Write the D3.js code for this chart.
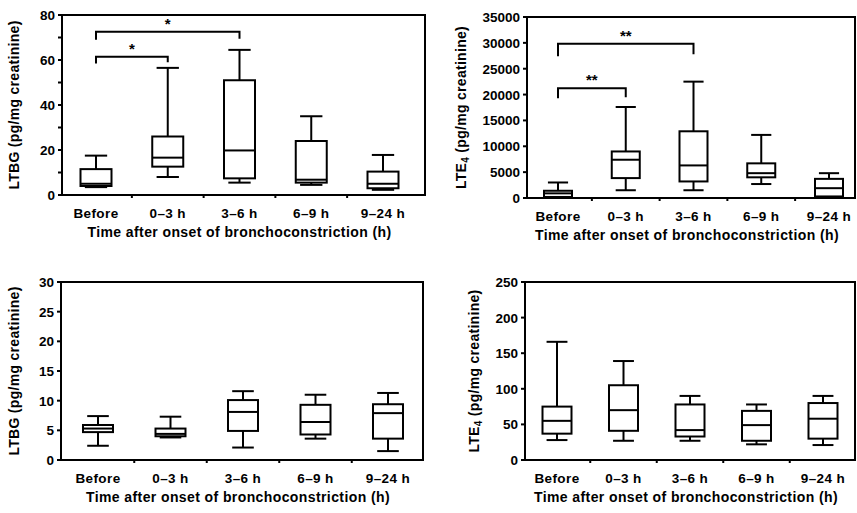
<!DOCTYPE html>
<html>
<head>
<meta charset="utf-8">
<script src="https://cdn.jsdelivr.net/npm/d3@7"></script>
<style>
  body { margin: 0; background: #fff; }
  svg { font-family: "Liberation Sans", Arial, sans-serif; font-weight: bold; }
</style>
</head>
<body>
<script>
var categories = ["Before", "0\u20133 h", "3\u20136 h", "6\u20139 h", "9\u201324 h"];

// each row: [min, q1, median, q3, max]
var ltbgEarly = [[3.5, 4, 5, 11.5, 17.5], [8, 12.6, 16.6, 26, 56.5], [5.5, 7.4, 19.8, 51, 64.5], [4.5, 5.5, 6.8, 24, 35], [2.3, 3, 5, 10.4, 17.8]];
var lte4Early = [[100, 200, 900, 1400, 3000], [1500, 3850, 7400, 9000, 17600], [1500, 3200, 6300, 12900, 22500], [2700, 4000, 4800, 6700, 12200], [100, 300, 1900, 3700, 4800]];
var ltbgLate = [[2.4, 4.7, 5.3, 5.9, 7.4], [3.8, 4.0, 4.4, 5.3, 7.3], [2.1, 4.9, 8.1, 10.1, 11.6], [3.6, 4.3, 6.4, 9.3, 11.0], [1.5, 3.6, 7.9, 9.4, 11.3]];
var lte4Late = [[28, 37, 55, 75, 166], [27, 41, 70, 105, 139], [27, 33, 42, 78, 90], [22, 27, 49, 69, 78], [21, 30, 58, 80, 90]];

var ltbgEarlyTicks = [0, 20, 40, 60, 80];
var ltbgEarlyMinor = [10, 30, 50, 70];
var lte4EarlyTicks = [0, 5000, 10000, 15000, 20000, 25000, 30000, 35000];
var ltbgLateTicks = [0, 5, 10, 15, 20, 25, 30];
var lte4LateTicks = [0, 50, 100, 150, 200, 250];

// brackets: [fromIndex, toIndex, barValue, leftEnd, rightEnd, label]
var ltbgEarlyBrackets = [[0, 1, 61.5, 58.5, 59, "*"], [0, 2, 72.6, 69, 69.4, "*"]];
var lte4EarlyBrackets = [[0, 1, 21200, 19300, 19500, "**"], [0, 2, 29850, 27400, 27800, "**"]];

var xTitle = "Time after onset of bronchoconstriction (h)";

var svg = d3.select("body").append("svg")
    .attr("width", 857)
    .attr("height", 513);

function drawPanel(p) {
  var g = svg.append("g");
  var y = d3.scaleLinear().domain([0, p.ticks[p.ticks.length - 1]]).range([p.yBot, p.yTop]);
  var x = d3.scalePoint().domain(categories).range(p.centers);

  // frame
  g.append("rect")
    .attr("x", p.x0).attr("y", p.yTop)
    .attr("width", p.x1 - p.x0).attr("height", p.yBot - p.yTop)
    .style("fill", "none").style("stroke", "#000").style("stroke-width", 2);

  // y ticks
  g.selectAll(".yt").data(p.ticks.concat(p.minor || []))
    .enter().append("line")
    .attr("x1", p.x0 - 4).attr("x2", p.x0)
    .attr("y1", function (d) { return y(d); })
    .attr("y2", function (d) { return y(d); })
    .style("stroke", "#000").style("stroke-width", 2);

  g.selectAll(".yl").data(p.ticks)
    .enter().append("text")
    .attr("x", p.x0 - 7)
    .attr("y", function (d) { return y(d) + 5; })
    .attr("text-anchor", "end")
    .style("font-size", "13.5px")
    .text(function (d) { return d; });

  // x ticks between categories
  var step = x.step();
  g.selectAll(".xt").data(categories.slice(1))
    .enter().append("line")
    .attr("x1", function (d) { return x(d) - step / 2; })
    .attr("x2", function (d) { return x(d) - step / 2; })
    .attr("y1", p.yBot).attr("y2", p.yBot + 3)
    .style("stroke", "#000").style("stroke-width", 2);

  g.selectAll(".xl").data(categories)
    .enter().append("text")
    .attr("x", function (d) { return x(d); })
    .attr("y", p.yBot + 23)
    .attr("text-anchor", "middle")
    .style("font-size", "13.5px")
    .style("letter-spacing", "0.4px")
    .text(function (d) { return d; });

  g.append("text")
    .attr("x", (p.x0 + p.x1) / 2 - 4)
    .attr("y", p.yBot + 42)
    .attr("text-anchor", "middle")
    .style("font-size", "14px")
    .style("letter-spacing", "0.4px")
    .text(xTitle);

  // y title
  var yt = g.append("text")
    .attr("transform", "translate(" + p.titleX + "," + ((p.yTop + p.yBot) / 2) + ") rotate(-90)")
    .attr("text-anchor", "middle")
    .style("font-size", "14px")
    .style("letter-spacing", "0.3px");
  yt.append("tspan").text(p.label);
  if (p.sub) {
    yt.append("tspan").text(p.sub).style("font-size", "10px").attr("dy", 3);
    yt.append("tspan").text(" (pg/mg creatinine)").attr("dy", -3);
  } else {
    yt.append("tspan").text(" (pg/mg creatinine)");
  }

  // boxes
  var bw = p.boxWidth, cw = p.boxWidth * 0.72;
  var box = g.selectAll(".box").data(p.data)
    .enter().append("g")
    .attr("transform", function (d, i) { return "translate(" + x(categories[i]) + ",0)"; })
    .style("stroke", "#000").style("stroke-width", 2).style("fill", "none");

  box.append("line")
    .attr("x1", 0).attr("x2", 0)
    .attr("y1", function (d) { return y(d[3]); })
    .attr("y2", function (d) { return y(d[4]); });
  box.append("line")
    .attr("x1", 0).attr("x2", 0)
    .attr("y1", function (d) { return y(d[0]); })
    .attr("y2", function (d) { return y(d[1]); });
  box.append("line")
    .attr("x1", -cw / 2).attr("x2", cw / 2)
    .attr("y1", function (d) { return y(d[4]); })
    .attr("y2", function (d) { return y(d[4]); });
  box.append("line")
    .attr("x1", -cw / 2).attr("x2", cw / 2)
    .attr("y1", function (d) { return y(d[0]); })
    .attr("y2", function (d) { return y(d[0]); });
  box.append("rect")
    .attr("x", -bw / 2).attr("width", bw)
    .attr("y", function (d) { return y(d[3]); })
    .attr("height", function (d) { return y(d[1]) - y(d[3]); })
    .style("fill", "#fff");
  box.append("line")
    .attr("x1", -bw / 2).attr("x2", bw / 2)
    .attr("y1", function (d) { return y(d[2]); })
    .attr("y2", function (d) { return y(d[2]); });

  // significance brackets
  var br = g.selectAll(".br").data(p.brackets || [])
    .enter().append("g");
  br.append("path")
    .attr("d", function (d) {
      var a = x(categories[d[0]]), b = x(categories[d[1]]);
      return "M" + a + "," + y(d[3]) + "V" + y(d[2]) + "H" + b + "V" + y(d[4]);
    })
    .style("fill", "none").style("stroke", "#000").style("stroke-width", 2);
  br.append("text")
    .attr("x", function (d) { return (x(categories[d[0]]) + x(categories[d[1]])) / 2; })
    .attr("y", function (d) { return y(d[2]) - 3; })
    .attr("text-anchor", "middle")
    .style("font-size", "15px")
    .text(function (d) { return d[5]; });
}

drawPanel({ data: ltbgEarly, ticks: ltbgEarlyTicks, minor: ltbgEarlyMinor, brackets: ltbgEarlyBrackets,
  label: "LTBG", x0: 62, x1: 425, yTop: 15, yBot: 195, centers: [96, 383], boxWidth: 31, titleX: 19 });
drawPanel({ data: lte4Early, ticks: lte4EarlyTicks, brackets: lte4EarlyBrackets,
  label: "LTE", sub: "4", x0: 527, x1: 855, yTop: 17, yBot: 198, centers: [558, 829], boxWidth: 28, titleX: 466 });
drawPanel({ data: ltbgLate, ticks: ltbgLateTicks,
  label: "LTBG", x0: 61, x1: 423, yTop: 282, yBot: 460, centers: [98, 388], boxWidth: 30, titleX: 19 });
drawPanel({ data: lte4Late, ticks: lte4LateTicks,
  label: "LTE", sub: "4", x0: 525, x1: 855, yTop: 282, yBot: 460, centers: [557, 823], boxWidth: 29, titleX: 479 });
</script>
</body>
</html>
